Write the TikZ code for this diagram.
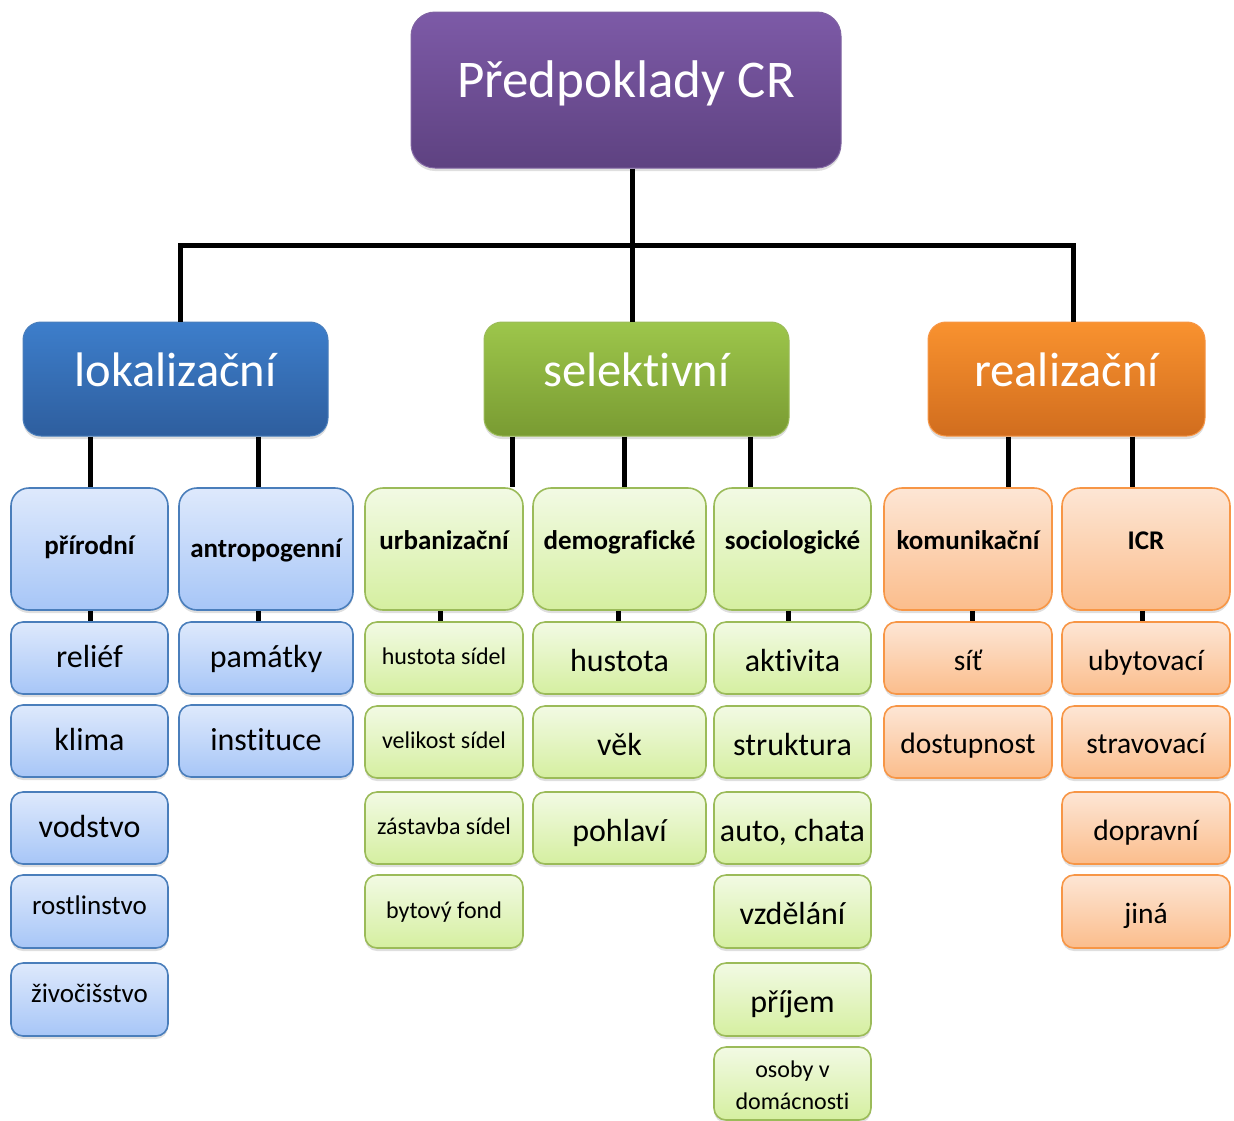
\documentclass[tikz,border=0pt]{standalone}
\usepackage{fontspec}
\setmainfont{Carlito}[Ligatures=NoCommon]
\usetikzlibrary{shadows}
\definecolor{rootTop}{HTML}{7D5AA7}
\definecolor{rootBot}{HTML}{5E4281}
\definecolor{rootLine}{HTML}{8064A2}
\definecolor{lokTop}{HTML}{3D7ECB}
\definecolor{lokBot}{HTML}{2E5E9E}
\definecolor{lokLine}{HTML}{4A7EBB}
\definecolor{selTop}{HTML}{9DC64B}
\definecolor{selBot}{HTML}{799B32}
\definecolor{selLine}{HTML}{9BBB59}
\definecolor{reaTop}{HTML}{F9922F}
\definecolor{reaBot}{HTML}{D16D1E}
\definecolor{reaLine}{HTML}{F79646}
\definecolor{lbTop}{HTML}{DEE9FC}
\definecolor{lbBot}{HTML}{A7C6F7}
\definecolor{lgTop}{HTML}{F2FAE4}
\definecolor{lgBot}{HTML}{D5EFA0}
\definecolor{loTop}{HTML}{FDE6D5}
\definecolor{loBot}{HTML}{FBBD8C}
\newcommand\mybox[7]{\node[#1, minimum width={(#5-#3)*1pt}, minimum height={(#6-#4)*1pt}] (#2) at ({(#3+#5)/2},{(#4+#6)/2}) {#7};}
% text with its baseline #1 above the box centre
\newcommand\bl[2]{\raisebox{#1}[0pt][0pt]{#2}}
\tikzset{
  box/.style={inner sep=0pt, align=center, drop shadow={shadow xshift=0pt, shadow yshift=-3pt, opacity=0.25}},
  rootbox/.style={box, rounded corners=24pt, top color=rootTop, bottom color=rootBot, draw=rootLine, line width=1pt, text=white, font=\fontsize{53}{60}\selectfont},
  headbox/.style={box, rounded corners=18pt, line width=1pt, text=white, font=\fontsize{48.5}{55}\selectfont},
  lokbox/.style={headbox, top color=lokTop, bottom color=lokBot, draw=lokLine},
  selbox/.style={headbox, top color=selTop, bottom color=selBot, draw=selLine},
  reabox/.style={headbox, top color=reaTop, bottom color=reaBot, draw=reaLine},
  blue/.style={top color=lbTop, bottom color=lbBot, draw=lokLine},
  green/.style={top color=lgTop, bottom color=lgBot, draw=selLine},
  orange/.style={top color=loTop, bottom color=loBot, draw=reaLine},
  catbox/.style={box, rounded corners=18pt, line width=1.6pt, font=\bfseries\fontsize{27}{32}\selectfont},
  itembox/.style={box, rounded corners=12pt, line width=1.6pt, font=\fontsize{32}{38}\selectfont},
  oitembox/.style={itembox, font=\fontsize{29.5}{35}\selectfont},
  smallbox/.style={itembox, font=\fontsize{24}{32}\selectfont},
  midbox/.style={itembox, font=\fontsize{27}{32}\selectfont},
  conn/.style={line width=5pt, black}
}
\begin{document}
\begin{tikzpicture}[x=1pt,y=-1pt]
\useasboundingbox (0,0) rectangle (1234,1120);
% root and level 1
\mybox{rootbox}{root}{411}{12}{841}{168}{\bl{-7pt}{Předpoklady CR}}
\mybox{lokbox}{lok}{23}{322}{328}{436}{\bl{-7pt}{lokalizační}}
\mybox{selbox}{sel}{484}{322}{789}{436}{\bl{-7pt}{selektivní}}
\mybox{reabox}{rea}{928}{322}{1205}{436}{\bl{-7pt}{realizační}}
% level 2
\mybox{catbox,blue}{prir}{11}{488}{168}{610}{\bl{-5pt}{přírodní}}
\mybox{catbox,blue}{antr}{179}{488}{353}{610}{\bl{-8pt}{antropogenní}}
\mybox{catbox,green}{urb}{365}{488}{523}{610}{\bl{0pt}{urbanizační}}
\mybox{catbox,green}{demo}{533}{488}{706}{610}{\bl{0pt}{demografické}}
\mybox{catbox,green}{soc}{714}{488}{871}{610}{\bl{0pt}{sociologické}}
\mybox{catbox,orange}{kom}{884}{488}{1052}{610}{\bl{0pt}{komunikační}}
\mybox{catbox,orange}{icr}{1062}{488}{1230}{610}{\bl{0pt}{ICR}}
% level 3 blue
\mybox{itembox,blue}{relief}{11}{622}{168}{694}{\bl{-9.5pt}{reliéf}}
\mybox{itembox,blue}{klima}{11}{705}{168}{777}{\bl{-9.5pt}{klima}}
\mybox{itembox,blue}{vodstvo}{11}{792}{168}{864}{\bl{-9.5pt}{vodstvo}}
\mybox{midbox,blue}{rostl}{11}{875}{168}{948}{\bl{-2.5pt}{rostlinstvo}}
\mybox{midbox,blue}{zivoc}{11}{963}{168}{1036}{\bl{-2.5pt}{živočišstvo}}
\mybox{itembox,blue}{pamatky}{179}{622}{353}{694}{\bl{-9.5pt}{památky}}
\mybox{itembox,blue}{instit}{179}{705}{353}{777}{\bl{-9.5pt}{instituce}}
% level 3 green
\mybox{smallbox,green}{hsidel}{365}{622}{523}{694}{\bl{-6.5pt}{hustota sídel}}
\mybox{smallbox,green}{vsidel}{365}{706}{523}{778}{\bl{-6.5pt}{velikost sídel}}
\mybox{smallbox,green}{zsidel}{365}{792}{523}{864}{\bl{-6.5pt}{zástavba sídel}}
\mybox{smallbox,green}{byt}{365}{875}{523}{948}{\bl{-7pt}{bytový fond}}
\mybox{itembox,green}{hustota}{533}{622}{706}{694}{\bl{-13pt}{hustota}}
\mybox{itembox,green}{vek}{533}{706}{706}{778}{\bl{-13pt}{věk}}
\mybox{itembox,green}{pohlavi}{533}{792}{706}{864}{\bl{-13pt}{pohlaví}}
\mybox{itembox,green}{aktiv}{714}{622}{871}{694}{\bl{-13pt}{aktivita}}
\mybox{itembox,green}{strukt}{714}{706}{871}{778}{\bl{-13pt}{struktura}}
\mybox{itembox,green}{auto}{714}{792}{871}{864}{\bl{-13pt}{auto, chata}}
\mybox{itembox,green}{vzdel}{714}{875}{871}{948}{\bl{-12.5pt}{vzdělání}}
\mybox{itembox,green}{prijem}{714}{963}{871}{1036}{\bl{-12.5pt}{příjem}}
\mybox{smallbox,green}{osoby}{714}{1047}{871}{1120}{\makebox[0pt]{\bl{6.5pt}{osoby v}}\makebox[0pt]{\bl{-25.5pt}{domácnosti}}}
% level 3 orange
\mybox{oitembox,orange}{sit}{884}{622}{1052}{694}{\bl{-12pt}{síť}}
\mybox{oitembox,orange}{dost}{884}{706}{1052}{778}{\bl{-11pt}{dostupnost}}
\mybox{oitembox,orange}{ubyt}{1062}{622}{1230}{694}{\bl{-12pt}{ubytovací}}
\mybox{oitembox,orange}{strav}{1062}{706}{1230}{778}{\bl{-11pt}{stravovací}}
\mybox{oitembox,orange}{doprav}{1062}{792}{1230}{864}{\bl{-12pt}{dopravní}}
\mybox{oitembox,orange}{jina}{1062}{875}{1230}{948}{\bl{-11.5pt}{jiná}}
% connectors: root to level 1
\coordinate (jL) at (180,245);
\coordinate (jC) at (632,245);
\coordinate (jR) at (1073,245);
\draw[conn, line join=miter] (lok.north -| jL) -- (jL) -- (jR) -- (rea.north -| jR);
\draw[conn] (root.south -| jC) -- (sel.north -| jC);
% level 1 to level 2
\coordinate (tprir) at ([xshift=0.5pt]prir.north);
\coordinate (tantr) at ([xshift=-8pt]antr.north);
\coordinate (turb) at ([xshift=68pt]urb.north);
\coordinate (tdemo) at ([xshift=4.5pt]demo.north);
\coordinate (tsoc) at ([xshift=-42.5pt]soc.north);
\coordinate (tkom) at ([xshift=40pt]kom.north);
\coordinate (ticr) at ([xshift=-14pt]icr.north);
\draw[conn] (lok.south -| tprir) -- (tprir);
\draw[conn] (lok.south -| tantr) -- (tantr);
\draw[conn] (sel.south -| turb) -- (turb);
\draw[conn] (sel.south -| tdemo) -- (tdemo);
\draw[conn] (sel.south -| tsoc) -- (tsoc);
\draw[conn] (rea.south -| tkom) -- (tkom);
\draw[conn] (rea.south -| ticr) -- (ticr);
% level 2 to level 3 stubs
\coordinate (sprir) at ([xshift=0.5pt]relief.north);
\coordinate (santr) at ([xshift=-8pt]pamatky.north);
\coordinate (surb) at ([xshift=-4pt]hsidel.north);
\coordinate (sdemo) at ([xshift=-1.5pt]hustota.north);
\coordinate (ssoc) at ([xshift=-4.5pt]aktiv.north);
\coordinate (skom) at ([xshift=4pt]sit.north);
\coordinate (sicr) at ([xshift=-4pt]ubyt.north);
\draw[conn] (prir.south -| sprir) -- (sprir);
\draw[conn] (antr.south -| santr) -- (santr);
\draw[conn] (urb.south -| surb) -- (surb);
\draw[conn] (demo.south -| sdemo) -- (sdemo);
\draw[conn] (soc.south -| ssoc) -- (ssoc);
\draw[conn] (kom.south -| skom) -- (skom);
\draw[conn] (icr.south -| sicr) -- (sicr);
\end{tikzpicture}
\end{document}
